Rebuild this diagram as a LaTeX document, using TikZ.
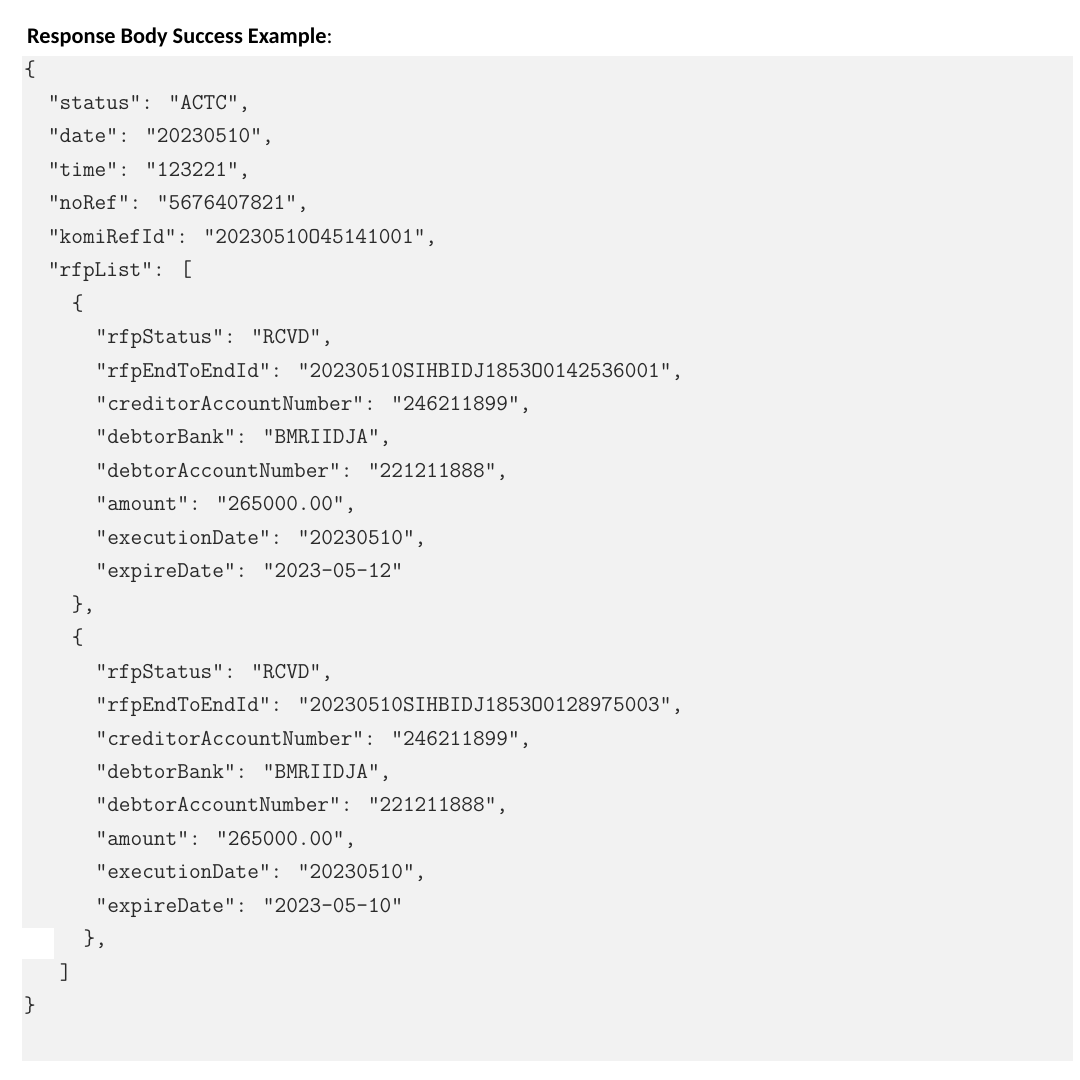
\documentclass[tikz,border=0pt]{standalone}
\usepackage{fontspec}
\setmainfont{Carlito}
\definecolor{codebg}{HTML}{F2F2F2}
\definecolor{codetext}{HTML}{2A2A2A}
\tikzset{
	jsonline/.style={anchor=base west, inner sep=0pt, text=codetext, font=\ttfamily\fontsize{22.67}{23}\selectfont},
	headline/.style={anchor=base west, inner sep=0pt, font=\fontsize{22.3}{23}\selectfont}
}
\begin{document}
\begin{tikzpicture}[x=1pt,y=-1pt]
	\useasboundingbox (0,0) rectangle (1080,1080);
	\fill[codebg] (22,56) rectangle (1073,1061);
	\fill[white] (22,928) rectangle (54,959);
	\node[headline] (title) at (27,43){\textbf{Response Body Success Example}:};
	% top level
	\node[jsonline] (open) at (24,76){\{};
	\node[jsonline] (status) at (47.8,109.45){"status": "ACTC",};
	\node[jsonline] (date) at (47.8,142.9){"date": "20230510",};
	\node[jsonline] (time) at (47.8,176.35){"time": "123221",};
	\node[jsonline] (noref) at (47.8,209.8){"noRef": "5676407821",};
	\node[jsonline] (komi) at (47.8,243.25){"komiRefId": "20230510O45141001",};
	\node[jsonline] (list) at (47.8,276.7){"rfpList": [};
	% first request
	\node[jsonline] (aopen) at (71.6,310.15){\{};
	\node[jsonline] (astatus) at (95.4,343.6){"rfpStatus": "RCVD",};
	\node[jsonline] (aid) at (95.4,377.05){"rfpEndToEndId": "20230510SIHBIDJ1853O0142536001",};
	\node[jsonline] (acred) at (95.4,410.5){"creditorAccountNumber": "246211899",};
	\node[jsonline] (abank) at (95.4,443.95){"debtorBank": "BMRIIDJA",};
	\node[jsonline] (adebt) at (95.4,477.4){"debtorAccountNumber": "221211888",};
	\node[jsonline] (aamount) at (95.4,510.85){"amount": "265000.00",};
	\node[jsonline] (aexec) at (95.4,544.3){"executionDate": "20230510",};
	\node[jsonline] (aexp) at (95.4,577.75){"expireDate": "2023-05-12"};
	\node[jsonline] (aclose) at (71.6,611.2){\},};
	% second request
	\node[jsonline] (bopen) at (71.6,644.65){\{};
	\node[jsonline] (bstatus) at (95.4,678.1){"rfpStatus": "RCVD",};
	\node[jsonline] (bid) at (95.4,711.55){"rfpEndToEndId": "20230510SIHBIDJ1853O0128975003",};
	\node[jsonline] (bcred) at (95.4,745){"creditorAccountNumber": "246211899",};
	\node[jsonline] (bbank) at (95.4,778.45){"debtorBank": "BMRIIDJA",};
	\node[jsonline] (bdebt) at (95.4,811.9){"debtorAccountNumber": "221211888",};
	\node[jsonline] (bamount) at (95.4,845.35){"amount": "265000.00",};
	\node[jsonline] (bexec) at (95.4,878.8){"executionDate": "20230510",};
	\node[jsonline] (bexp) at (95.4,912.25){"expireDate": "2023-05-10"};
	\node[jsonline] (bclose) at (83.5,945.7){\},};
	% closing
	\node[jsonline] (listclose) at (59.7,979.15){]};
	\node[jsonline] (close) at (24,1012.6){\}};
\end{tikzpicture}
\end{document}
